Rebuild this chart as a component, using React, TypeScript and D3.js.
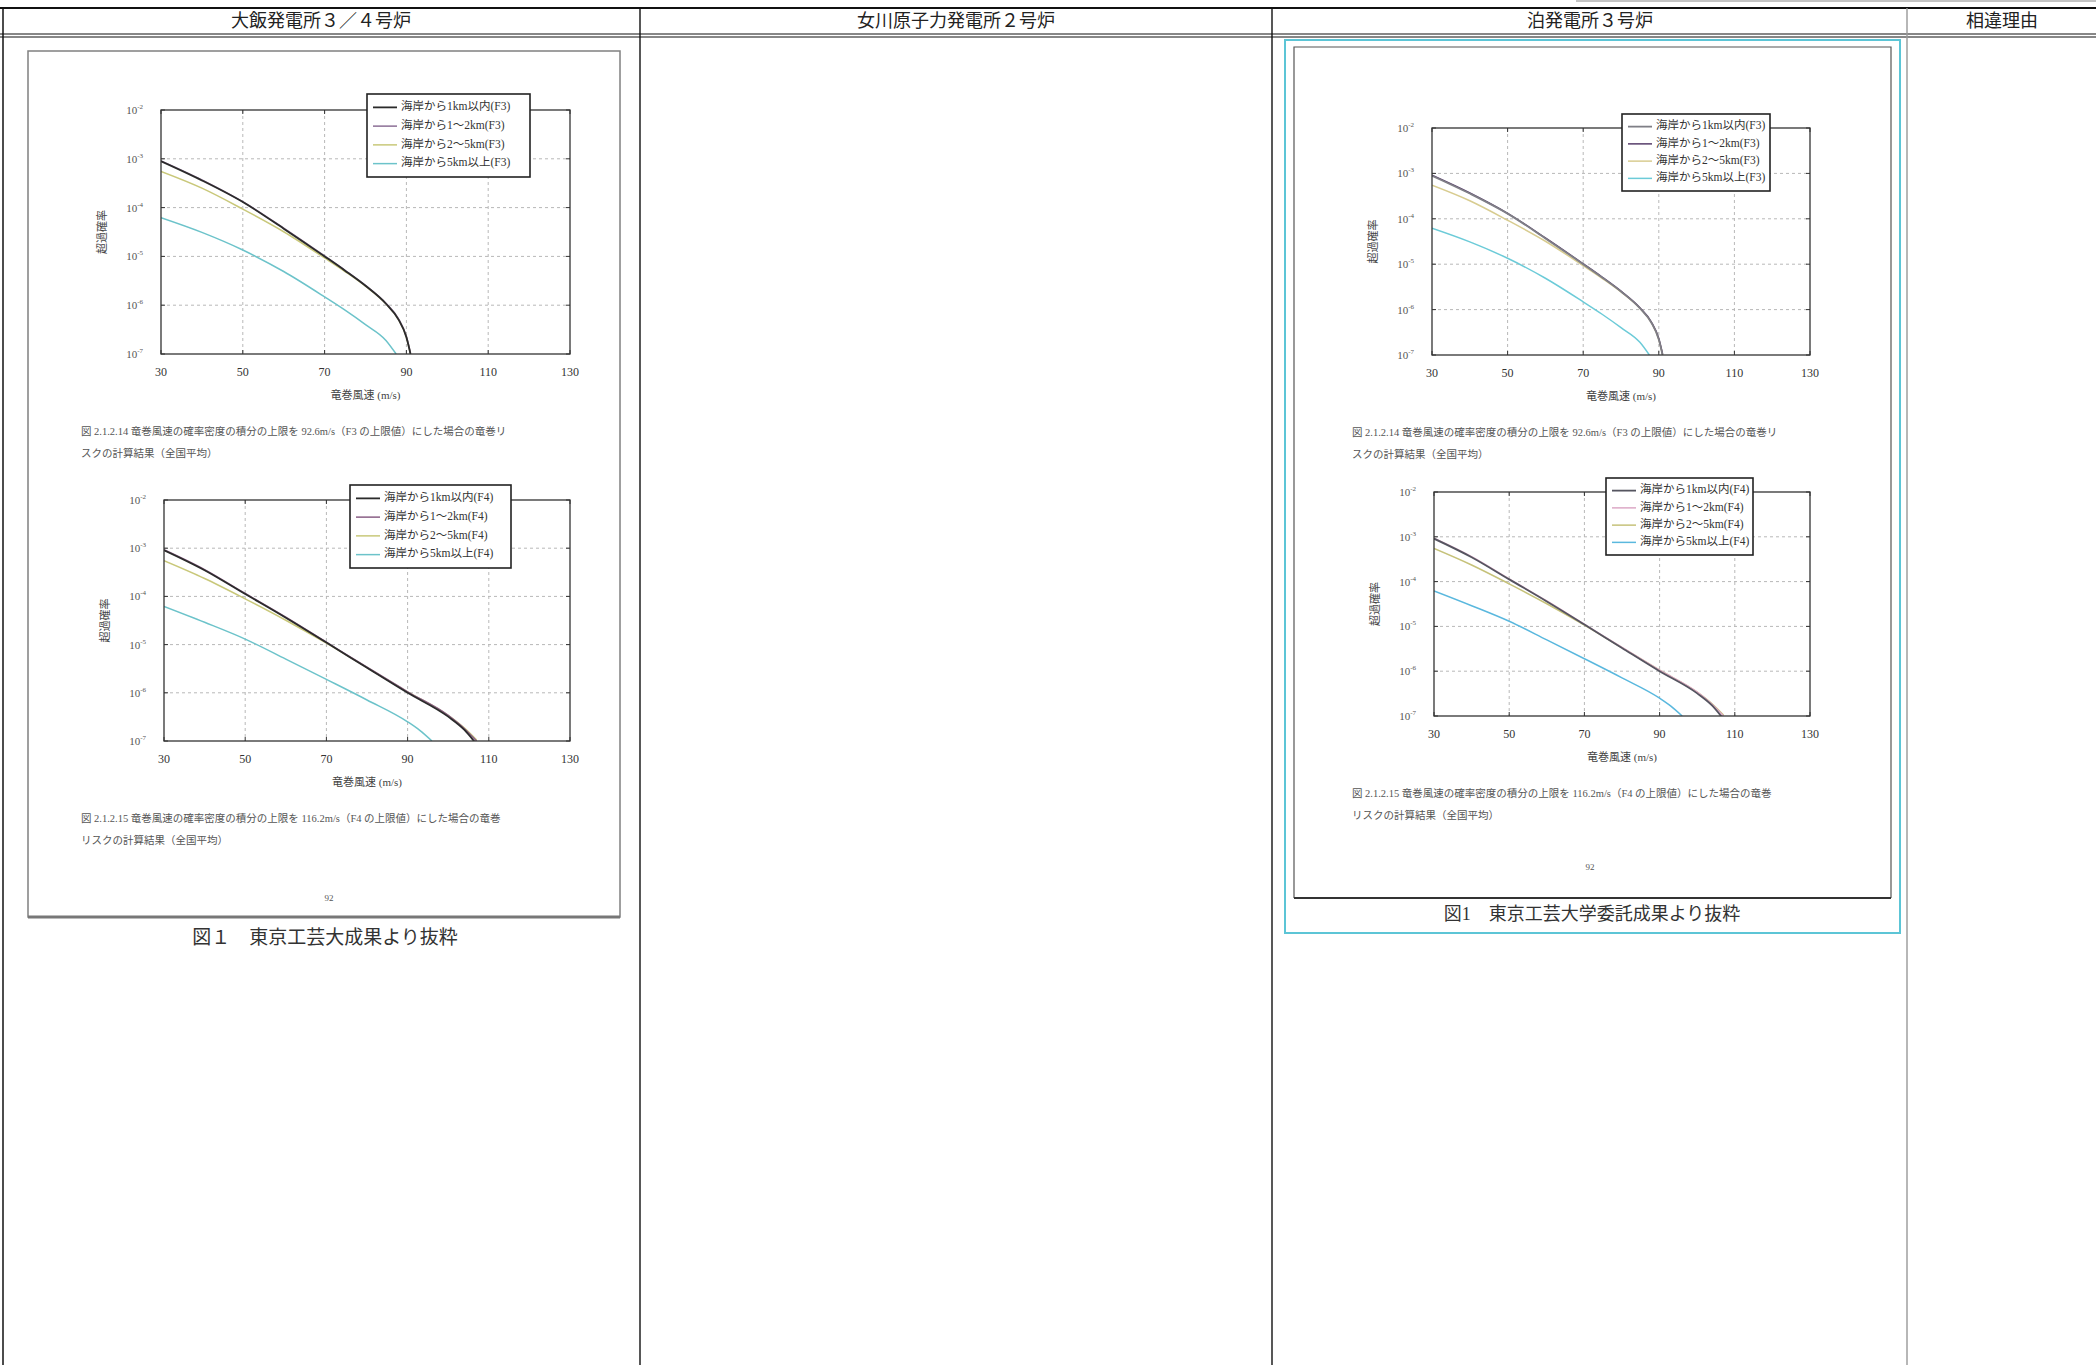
import * as d3 from "d3";

// axis ticks shared by all four panels
const speedTicks = [30, 50, 70, 90, 110, 130];
const probExponents = [-2, -3, -4, -5, -6, -7];

// F3 upper limit (92.6 m/s) curves
const f3Speeds = [30, 40, 50, 60, 70, 75, 80, 85, 88, 90, 91];
const f3Within1km = [8.9e-4, 3.6e-4, 1.3e-4, 3.7e-5, 1.0e-5, 5.1e-6, 2.5e-6, 1.07e-6, 5.2e-7, 2.2e-7, 1.0e-7];
const f3From1to2km = [9.1e-4, 3.7e-4, 1.32e-4, 3.8e-5, 1.02e-5, 5.2e-6, 2.55e-6, 1.1e-6, 5.4e-7, 2.3e-7, 1.05e-7];
const f3From2to5km = [5.5e-4, 2.5e-4, 9.3e-5, 3.2e-5, 9.3e-6, 4.9e-6, 2.45e-6, 1.07e-6, 5.2e-7, 2.2e-7, 1.0e-7];
const f3Over5kmSpeeds = [30, 40, 50, 60, 70, 75, 80, 85, 87.5];
const f3Over5km = [6.2e-5, 3.1e-5, 1.35e-5, 4.9e-6, 1.48e-6, 7.9e-7, 4.0e-7, 1.9e-7, 1.0e-7];

// F4 upper limit (116.2 m/s) curves
const f4Speeds = [30, 40, 50, 60, 70, 80, 90, 100, 104, 107];
const f4Within1km = [9.1e-4, 3.5e-4, 1.12e-4, 3.6e-5, 1.1e-5, 3.3e-6, 1.0e-6, 3.2e-7, 1.7e-7, 0.85e-7];
const f4From1to2km = [9.3e-4, 3.6e-4, 1.15e-4, 3.7e-5, 1.12e-5, 3.4e-6, 1.05e-6, 3.4e-7, 1.8e-7, 1.0e-7];
const f4From2to5km = [5.5e-4, 2.35e-4, 8.9e-5, 3.2e-5, 1.07e-5, 3.35e-6, 1.05e-6, 3.4e-7, 1.85e-7, 1.05e-7];
const f4Over5kmSpeeds = [30, 40, 50, 60, 70, 80, 90, 93, 96];
const f4Over5km = [6.2e-5, 2.9e-5, 1.3e-5, 5.0e-6, 1.9e-6, 7.1e-7, 2.5e-7, 1.66e-7, 1.0e-7];

const f3Labels = ["海岸から1km以内(F3)", "海岸から1～2km(F3)", "海岸から2～5km(F3)", "海岸から5km以上(F3)"];
const f4Labels = ["海岸から1km以内(F4)", "海岸から1～2km(F4)", "海岸から2～5km(F4)", "海岸から5km以上(F4)"];

const headers = ["大飯発電所３／４号炉", "女川原子力発電所２号炉", "泊発電所３号炉", "相違理由"];

const f3Caption = [
  "図 2.1.2.14 竜巻風速の確率密度の積分の上限を 92.6m/s（F3 の上限値）にした場合の竜巻リ",
  "スクの計算結果（全国平均）",
];
const f4Caption = [
  "図 2.1.2.15 竜巻風速の確率密度の積分の上限を 116.2m/s（F4 の上限値）にした場合の竜巻",
  "リスクの計算結果（全国平均）",
];

const f3Series = [
  { label: f3Labels[0], speeds: f3Speeds, values: f3Within1km },
  { label: f3Labels[1], speeds: f3Speeds, values: f3From1to2km },
  { label: f3Labels[2], speeds: f3Speeds, values: f3From2to5km },
  { label: f3Labels[3], speeds: f3Over5kmSpeeds, values: f3Over5km },
];
const f4Series = [
  { label: f4Labels[0], speeds: f4Speeds, values: f4Within1km },
  { label: f4Labels[1], speeds: f4Speeds, values: f4From1to2km },
  { label: f4Labels[2], speeds: f4Speeds, values: f4From2to5km },
  { label: f4Labels[3], speeds: f4Over5kmSpeeds, values: f4Over5km },
];

const serif = "'Liberation Serif', 'Noto Sans CJK JP', serif";
const sans = "'Noto Sans CJK JP', sans-serif";

function Chart({ id, box, legend, series, colors, caption, captionX, pageNo }) {
  const x = d3.scaleLinear().domain([30, 130]).range([box.left, box.right]);
  const y = d3.scaleLog().domain([1e-7, 1e-2]).range([box.bottom, box.top]);
  const line = d3
    .line()
    .x((d) => x(d[0]))
    .y((d) => y(d[1]))
    .curve(d3.curveMonotoneX);

  const rowH = (legend.h - 8) / 4;

  return (
    <g>
      <defs>
        <clipPath id={id}>
          <rect x={box.left} y={box.top - 2} width={box.right - box.left} height={box.bottom - box.top + 2} />
        </clipPath>
      </defs>
      {/* grid */}
      {speedTicks.slice(1, -1).map((t) => (
        <line key={"gx" + t} x1={x(t)} x2={x(t)} y1={box.top} y2={box.bottom} stroke="#b8b8b8" strokeDasharray="3,3" />
      ))}
      {probExponents.slice(1, -1).map((e) => (
        <line key={"gy" + e} x1={box.left} x2={box.right} y1={y(10 ** e)} y2={y(10 ** e)} stroke="#b8b8b8" strokeDasharray="3,3" />
      ))}
      {/* inward ticks */}
      {speedTicks.map((t) => (
        <g key={"tx" + t}>
          <line x1={x(t)} x2={x(t)} y1={box.bottom} y2={box.bottom - 4} stroke="#333" />
          <line x1={x(t)} x2={x(t)} y1={box.top} y2={box.top + 4} stroke="#333" />
        </g>
      ))}
      {probExponents.map((e) => (
        <g key={"ty" + e}>
          <line x1={box.left} x2={box.left + 4} y1={y(10 ** e)} y2={y(10 ** e)} stroke="#333" />
          <line x1={box.right} x2={box.right - 4} y1={y(10 ** e)} y2={y(10 ** e)} stroke="#333" />
        </g>
      ))}
      {/* curves */}
      <g clipPath={`url(#${id})`}>
        {series
          .map((s, i) => ({ s, i }))
          .reverse()
          .map(({ s, i }) => (
            <path
              key={s.label}
              d={line(s.speeds.map((v, k) => [v, s.values[k]]))}
              fill="none"
              stroke={colors[i]}
              strokeWidth={i === 0 ? 1.8 : 1.5}
            />
          ))}
      </g>
      <rect x={box.left} y={box.top} width={box.right - box.left} height={box.bottom - box.top} fill="none" stroke="#333" strokeWidth={1.3} />
      {/* tick labels */}
      {speedTicks.map((t) => (
        <text key={"lx" + t} x={x(t)} y={box.bottom + 19} textAnchor="middle" dominantBaseline="middle" fontSize={12} fill="#333" fontFamily={serif}>
          {t}
        </text>
      ))}
      {probExponents.map((e) => (
        <text key={"ly" + e} x={box.left - 18} y={y(10 ** e) + 4} textAnchor="end" fontSize={11} fill="#555" fontFamily={serif}>
          10
          <tspan dy={-5} fontSize={7}>
            {e}
          </tspan>
        </text>
      ))}
      <text x={(box.left + box.right) / 2} y={box.bottom + 42} textAnchor="middle" dominantBaseline="middle" fontSize={11} fill="#444" fontFamily={serif}>
        竜巻風速 (m/s)
      </text>
      <text
        transform={`translate(${box.left - 58},${(box.top + box.bottom) / 2}) rotate(-90)`}
        textAnchor="middle"
        dominantBaseline="middle"
        fontSize={11}
        fill="#444"
        fontFamily={serif}
      >
        超過確率
      </text>
      {/* legend */}
      <rect x={legend.x} y={legend.y} width={legend.w} height={legend.h} fill="#fff" stroke="#222" strokeWidth={1.6} />
      {series.map((s, i) => {
        const cy = legend.y + 4 + rowH * (i + 0.5);
        return (
          <g key={"lg" + i}>
            <line x1={legend.x + 6} x2={legend.x + 30} y1={cy} y2={cy} stroke={colors[i]} strokeWidth={i === 0 ? 1.8 : 1.5} />
            <text x={legend.x + 34} y={cy} dominantBaseline="middle" fontSize={11.5} fill="#333" fontFamily={serif}>
              {s.label}
            </text>
          </g>
        );
      })}
      {/* caption */}
      {caption.map((c, i) => (
        <text key={"cap" + i} x={captionX} y={box.bottom + 79 + i * 22} dominantBaseline="middle" fontSize={10.5} fill="#555" fontFamily={serif}>
          {c}
        </text>
      ))}
      {pageNo && (
        <text x={pageNo.x} y={pageNo.y} textAnchor="middle" dominantBaseline="middle" fontSize={9} fill="#555" fontFamily={serif}>
          92
        </text>
      )}
    </g>
  );
}

export default function App() {
  const width = 2096;
  const height = 1365;
  const colLines = [3, 640, 1272, 1907];
  const headerCenters = [321, 956, 1590, 2002];

  return (
    <svg width={width} height={height} style={{ position: "absolute", left: 0, top: 0, background: "#fff" }}>
      <rect width={width} height={height} fill="#fff" />
      {/* table */}
      <line x1={1576} x2={width} y1={1} y2={1} stroke="#888" strokeWidth={1} />
      <line x1={0} x2={width} y1={8} y2={8} stroke="#111" strokeWidth={2} />
      <line x1={0} x2={width} y1={34} y2={34} stroke="#111" strokeWidth={1.2} />
      <line x1={0} x2={width} y1={37} y2={37} stroke="#111" strokeWidth={1.2} />
      {colLines.map((cx, i) => (
        <line key={cx} x1={cx} x2={cx} y1={8} y2={height} stroke={i === 3 ? "#999" : "#111"} strokeWidth={i === 0 ? 1.5 : 1.4} />
      ))}
      {headers.map((h, i) => (
        <text key={h} x={headerCenters[i]} y={22} textAnchor="middle" dominantBaseline="middle" fontSize={18} fill="#222" fontFamily={sans}>
          {h}
        </text>
      ))}

      {/* left page image */}
      <rect x={28} y={51} width={592} height={866} fill="#fff" stroke="#808080" strokeWidth={1.5} />
      <line x1={28} x2={620} y1={917} y2={917} stroke="#777" strokeWidth={3} />
      <Chart
        id="clipLT"
        box={{ left: 161, right: 570, top: 110, bottom: 354 }}
        legend={{ x: 367, y: 94, w: 163, h: 83 }}
        series={f3Series}
        colors={["#2b2b2b", "#8c6f96", "#c9c87a", "#6cc3ca"]}
        caption={f3Caption}
        captionX={81}
      />
      <Chart
        id="clipLB"
        box={{ left: 164, right: 570, top: 500, bottom: 741 }}
        legend={{ x: 350, y: 485, w: 161, h: 83 }}
        series={f4Series}
        colors={["#2b2b2b", "#8a5f86", "#c9c87a", "#6cc3ca"]}
        caption={f4Caption}
        captionX={81}
        pageNo={{ x: 329, y: 899 }}
      />
      <text x={325} y={940} textAnchor="middle" dominantBaseline="middle" fontSize={19} fill="#333" fontFamily={serif}>
        図１　東京工芸大成果より抜粋
      </text>

      {/* right page image */}
      <rect x={1285} y={40} width={615} height={893} fill="none" stroke="#5cc5d6" strokeWidth={2} />
      <path d="M1294,898 L1294,47 L1891,47 L1891,898" fill="none" stroke="#555" strokeWidth={1.2} />
      <line x1={1294} x2={1891} y1={898} y2={898} stroke="#333" strokeWidth={2.2} />
      <Chart
        id="clipRT"
        box={{ left: 1432, right: 1810, top: 128, bottom: 355 }}
        legend={{ x: 1622, y: 114, w: 148, h: 77 }}
        series={f3Series}
        colors={["#7f7f86", "#573d6b", "#d8cc90", "#6ccbd8"]}
        caption={f3Caption}
        captionX={1352}
      />
      <Chart
        id="clipRB"
        box={{ left: 1434, right: 1810, top: 492, bottom: 716 }}
        legend={{ x: 1606, y: 478, w: 147, h: 77 }}
        series={f4Series}
        colors={["#555560", "#dca8c6", "#c6c27a", "#5ab8de"]}
        caption={f4Caption}
        captionX={1352}
        pageNo={{ x: 1590, y: 868 }}
      />
      <text x={1592} y={916} textAnchor="middle" dominantBaseline="middle" fontSize={18} fill="#333" fontFamily={serif}>
        図1　東京工芸大学委託成果より抜粋
      </text>
    </svg>
  );
}
